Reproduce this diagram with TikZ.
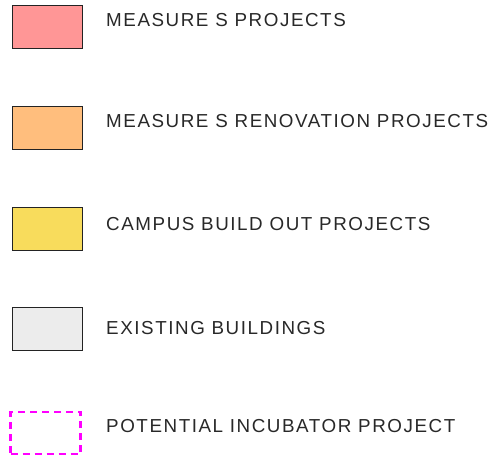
\documentclass[tikz,border=0pt]{standalone}
\usepackage{fontspec}
\setmainfont[LetterSpace=8.3]{Liberation Sans}
\usepackage{tikz}
\usetikzlibrary{positioning}
\definecolor{MeasureS}{RGB}{255,150,150}
\definecolor{Renovation}{RGB}{255,190,125}
\definecolor{BuildOut}{RGB}{248,220,92}
\definecolor{Existing}{RGB}{236,236,236}
\definecolor{Incubator}{RGB}{255,0,255}
\definecolor{LabelGray}{RGB}{40,40,40}
\definecolor{EdgeGray}{RGB}{35,35,35}

\begin{document}
\begin{tikzpicture}[x=1pt, y=-1pt,
    legbox/.style={draw=EdgeGray, line width=1pt, minimum width=70pt, minimum height=43pt, inner sep=0pt},
    dashbox/.style={draw=Incubator, line width=2.2pt, dash pattern=on 7pt off 5pt, minimum width=70pt, minimum height=42pt, inner sep=0pt},
    leglabel/.style={anchor=base west, inner sep=0pt, text=LabelGray, font=\fontsize{18.8}{21}\selectfont}]
  \useasboundingbox (0,0) rectangle (496,459);
  % legend swatches
  \node[legbox, fill=MeasureS] (boxMeasure) at (47,26.5) {};
  \node[legbox, fill=Renovation] (boxRenov) at (47,127.5) {};
  \node[legbox, fill=BuildOut] (boxBuild) at (47,229) {};
  \node[legbox, fill=Existing] (boxExist) at (47,329) {};
  \node[dashbox] (boxIncub) at (45.5,433) {};
  % legend texts
  \node[leglabel] (labMeasure) at (106,26.3) {MEASURE S PROJECTS};
  \node[leglabel] (labRenov) at (106,127) {MEASURE S RENOVATION PROJECTS};
  \node[leglabel] (labBuild) at (106,230.3) {CAMPUS BUILD OUT PROJECTS};
  \node[leglabel] (labExist) at (106,334) {EXISTING BUILDINGS};
  \node[leglabel] (labIncub) at (106,432.7) {POTENTIAL INCUBATOR PROJECT};
\end{tikzpicture}
\end{document}
